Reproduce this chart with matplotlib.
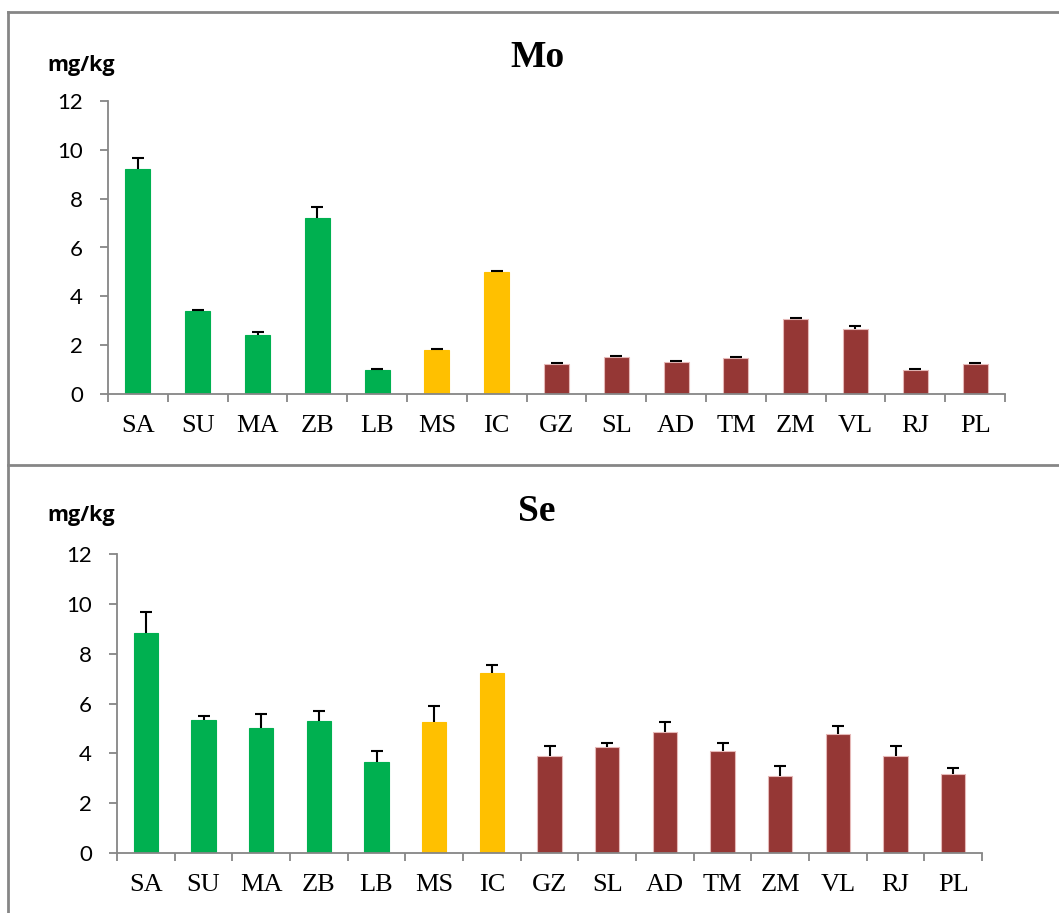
import numpy as np
import matplotlib.pyplot as plt
from matplotlib.lines import Line2D

sites = ["SA", "SU", "MA", "ZB", "LB", "MS", "IC", "GZ", "SL", "AD", "TM", "ZM", "VL", "RJ", "PL"]
groups = ["g", "g", "g", "g", "g", "y", "y", "b", "b", "b", "b", "b", "b", "b", "b"]

mo_mean = [9.22, 3.39, 2.41, 7.22, 0.98, 1.80, 4.98, 1.22, 1.50, 1.31, 1.47, 3.09, 2.67, 0.98, 1.22]
mo_err = [0.45, 0.06, 0.11, 0.43, 0.04, 0.03, 0.05, 0.05, 0.04, 0.05, 0.05, 0.04, 0.12, 0.04, 0.04]

se_mean = [8.84, 5.32, 5.00, 5.28, 3.64, 5.24, 7.24, 3.91, 4.24, 4.87, 4.11, 3.08, 4.79, 3.88, 3.17]
se_err = [0.84, 0.19, 0.59, 0.43, 0.45, 0.65, 0.29, 0.38, 0.16, 0.37, 0.30, 0.40, 0.30, 0.40, 0.24]

colors = {"g": "#00B050", "y": "#FFC000", "b": "#953735"}
edges = {"g": "#00B050", "y": "#FFC000", "b": "#E6B9B8"}
grey = "#868686"

W, H = 1059, 913
fig = plt.figure(figsize=(W / 100, H / 100), dpi=100)


def px(x, y):
    return x / W, 1 - y / H


def panel(rect, means, errs, title, title_y, unit_y):
    ax = fig.add_axes(rect)
    x = np.arange(len(sites))
    ax.bar(x, means, width=0.42, color=[colors[g] for g in groups],
           edgecolor=[edges[g] for g in groups], linewidth=0.8, zorder=2)
    eb = ax.errorbar(x, means, yerr=[np.zeros(len(errs)), errs], fmt="none",
                     ecolor="black", elinewidth=1.5, capsize=4.5, capthick=1.5, zorder=3)
    # only the upper cap, as in the original
    eb[1][0].set_visible(False)
    ax.set_xlim(-0.5, len(sites) - 0.5)
    ax.set_ylim(0, 12)
    ax.set_yticks(range(0, 13, 2))
    ax.set_xticks(np.arange(len(sites) + 1) - 0.5)
    ax.set_xticklabels([])
    ax.set_xticks(x, minor=True)
    ax.set_xticklabels(sites, minor=True, family="Liberation Serif", fontsize=19)
    ax.tick_params(axis="x", which="major", length=6, width=1.3, color=grey, direction="out")
    ax.tick_params(axis="x", which="minor", length=0, pad=15)
    ax.tick_params(axis="y", length=6, width=1.3, color=grey, pad=12, labelsize=16)
    for lab in ax.get_yticklabels():
        lab.set_family("Lato")
    for s in ["top", "right"]:
        ax.spines[s].set_visible(False)
    for s in ["left", "bottom"]:
        ax.spines[s].set_color(grey)
        ax.spines[s].set_linewidth(1.3)
    fx, fy = px(537, title_y)
    fig.text(fx, fy, title, family="Liberation Serif", fontweight="bold", fontsize=27,
             ha="center", va="baseline")
    ux, uy = px(47, unit_y)
    fig.text(ux, uy, "mg/kg", fontweight="bold", fontsize=15.5, family="Open Sans",
             ha="left", va="center")
    return ax


l, b = px(108, 394)
r, t = px(1005, 101)
panel([l, b, r - l, t - b], mo_mean, mo_err, "Mo", 67, 65)

l, b = px(117, 853)
r, t = px(982, 554)
panel([l, b, r - l, t - b], se_mean, se_err, "Se", 521, 516)

# frames around the two panels
for seg in [((8, 12), (W, 12)), ((8, 12), (8, H)), ((8, 465), (W, 465))]:
    (x0, y0), (x1, y1) = seg
    a, c = px(x0, y0)
    d, e = px(x1, y1)
    fig.add_artist(Line2D([a, d], [c, e], color=grey, linewidth=2))

fig.savefig("out.png", dpi=100, facecolor="white")
